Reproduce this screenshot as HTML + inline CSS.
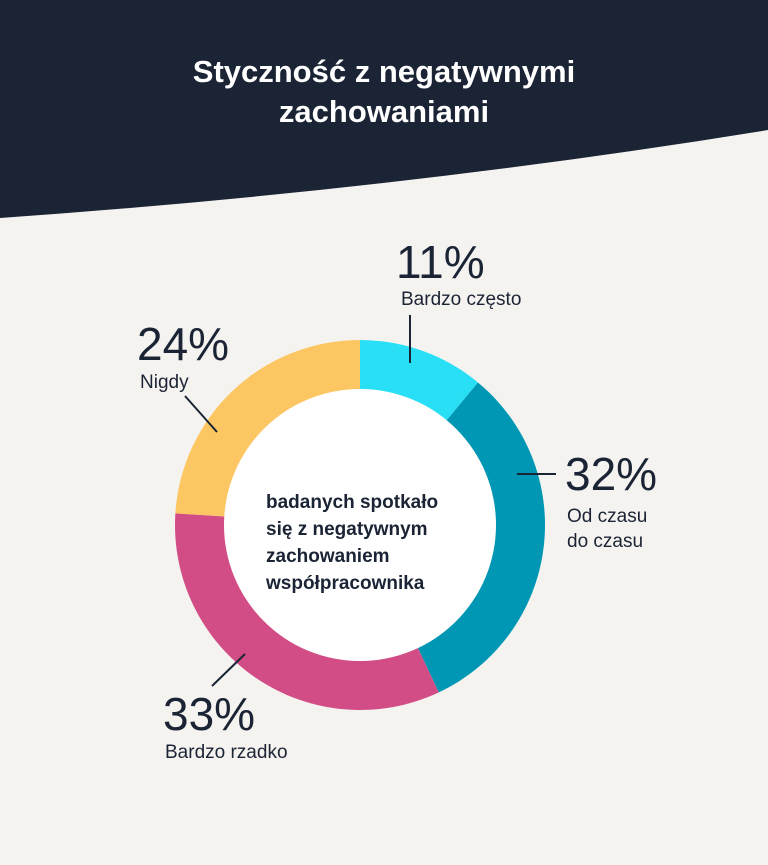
<!DOCTYPE html>
<html><head><meta charset="utf-8"><style>
body{margin:0;background:#f5f3f0;font-family:"Liberation Sans",sans-serif}
svg{display:block}
</style></head><body>
<svg width="768" height="865" viewBox="0 0 768 865">
<rect width="768" height="865" fill="#f5f3f0"/>
<path d="M0 0H768V130Q400 190 0 218Z" fill="#1b2435"/>
<text x="384" y="82" text-anchor="middle" font-size="31" font-weight="bold" fill="#fff">Styczność z negatywnymi</text>
<text x="384" y="122" text-anchor="middle" font-size="31" font-weight="bold" fill="#fff">zachowaniami</text>
<g id="slices"></g>
<circle cx="360" cy="525" r="136" fill="#fff"/>
<g font-size="19" font-weight="bold" fill="#1b2435">
<text x="266" y="508">badanych spotkało</text>
<text x="266" y="535">się z negatywnym</text>
<text x="266" y="562">zachowaniem</text>
<text x="266" y="589">współpracownika</text>
</g>
<g stroke="#1b2435" stroke-width="2">
<line x1="410" y1="315" x2="410" y2="363"/>
<line x1="517" y1="474" x2="556" y2="474"/>
<line x1="185" y1="396" x2="217" y2="432"/>
<line x1="245" y1="654" x2="212" y2="686"/>
</g>
<g fill="#1b2435">
<text x="396" y="278" font-size="46">11%</text>
<text x="401" y="305" font-size="19">Bardzo często</text>
<text x="137" y="360" font-size="46">24%</text>
<text x="140" y="388" font-size="19">Nigdy</text>
<text x="565" y="490" font-size="46">32%</text>
<text x="567" y="522" font-size="19">Od czasu</text>
<text x="567" y="547" font-size="19">do czasu</text>
<text x="163" y="730" font-size="46">33%</text>
<text x="165" y="758" font-size="19">Bardzo rzadko</text>
</g>
</svg>
<script>
const categories=["Bardzo często","Od czasu do czasu","Bardzo rzadko","Nigdy"];
const values=[11,32,33,24];
const colors=["#29dff5","#0097b4","#d24d86","#fcc662"];
const cx=360,cy=525,R=185;
const g=document.getElementById('slices');
const total=values.reduce((a,b)=>a+b,0);
let a0=0;
function pt(a){return [cx+R*Math.sin(a*2*Math.PI),cy-R*Math.cos(a*2*Math.PI)];}
values.forEach((v,i)=>{
  const a1=a0+v/total;
  const [x0,y0]=pt(a0),[x1,y1]=pt(a1);
  const p=document.createElementNS('http://www.w3.org/2000/svg','path');
  p.setAttribute('d',`M${cx} ${cy}L${x0} ${y0}A${R} ${R} 0 ${a1-a0>0.5?1:0} 1 ${x1} ${y1}Z`);
  p.setAttribute('fill',colors[i]);
  
  
  g.appendChild(p);
  a0=a1;
});
</script>
</body></html>
